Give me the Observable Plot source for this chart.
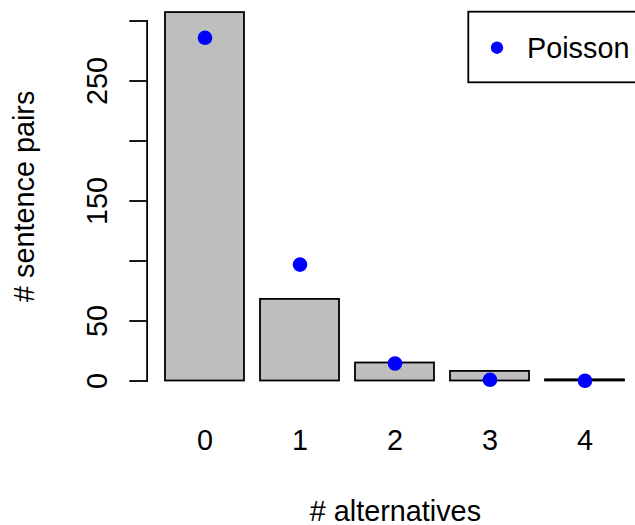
<!DOCTYPE html>
<html>
<head>
<meta charset="utf-8">
<script src="https://cdn.jsdelivr.net/npm/d3@7"></script>
<script src="https://cdn.jsdelivr.net/npm/@observablehq/plot@0.6"></script>
<style>
  html, body { margin: 0; padding: 0; background: #ffffff; }
  #chart svg { display: block; }
</style>
</head>
<body>
<div id="chart"></div>
<script>
// Data
const categories = ["0", "1", "2", "3", "4"];
const observed = [307, 68, 15, 8, 1];
const poisson = [286, 97, 14.6, 1, 0.2];
const yTicks = [0, 50, 100, 150, 200, 250, 300];
const yTickLabels = [0, 50, 150, 250];
const xTitle = "# alternatives";
const yTitle = "# sentence pairs";
const legendLabel = "Poisson";

const rows = categories.map((k, i) => ({k, count: observed[i], poisson: poisson[i]}));

const FONT = 28.8;
const LW = 1.8;

const chart = Plot.plot({
  width: 635,
  height: 525,
  marginLeft: 146.6,
  marginRight: 0,
  marginTop: 20.5,
  marginBottom: 144.5,
  style: {fontFamily: "'Liberation Sans', Arial, Helvetica, sans-serif", fontSize: FONT + "px", background: "#ffffff", color: "#000000"},
  x: {type: "band", domain: categories, range: [146.6, 643.4], paddingInner: 1/6, paddingOuter: 0.1933, align: 0.5, label: null},
  y: {domain: [0, 300], range: [380.5, 20.5], label: null},
  marks: [
    Plot.barY(rows, {x: "k", y: "count", fill: "#BEBEBE", stroke: "#000000", strokeWidth: LW}),
    Plot.dot(rows, {x: "k", y: "poisson", r: 6.4, fill: "#0000FF", stroke: "#0000FF", strokeWidth: LW}),
    Plot.frame({anchor: "left", stroke: "#000000", strokeWidth: LW}),
    Plot.axisY({ticks: yTicks, tickSize: 17.3, tickFormat: () => "", strokeWidth: LW, label: null}),
    Plot.text(yTickLabels, {y: d => d, text: d => String(d), frameAnchor: "left", rotate: -90, dx: -39.9, lineAnchor: "bottom", textAnchor: "middle", fontSize: FONT}),
    Plot.axisX({tickSize: 0, tickPadding: 48.5, fontSize: FONT, label: null}),
    Plot.text([yTitle], {frameAnchor: "left", rotate: -90, dx: -113.3, dy: -4.7, lineAnchor: "bottom", textAnchor: "middle", fontSize: FONT}),
    Plot.text([xTitle], {frameAnchor: "bottom", dx: 4.1, dy: 139.5, lineAnchor: "bottom", textAnchor: "middle", fontSize: FONT})
  ]
});

// Legend box (R-style, top-right, partly beyond the right edge)
const svg = d3.select(chart);
const lg = svg.append("g").attr("class", "legend");
lg.append("rect")
  .attr("x", 468.3).attr("y", 11.7).attr("width", 175).attr("height", 70.6)
  .attr("fill", "#ffffff").attr("stroke", "#000000").attr("stroke-width", LW);
lg.append("circle")
  .attr("cx", 497).attr("cy", 47.7).attr("r", 5.3)
  .attr("fill", "#0000FF").attr("stroke", "#0000FF").attr("stroke-width", LW);
lg.append("text")
  .attr("x", 527).attr("y", 57.8)
  .attr("text-anchor", "start")
  .attr("font-size", FONT).attr("fill", "#000000")
  .text(legendLabel);

document.getElementById("chart").appendChild(chart);
</script>
</body>
</html>
